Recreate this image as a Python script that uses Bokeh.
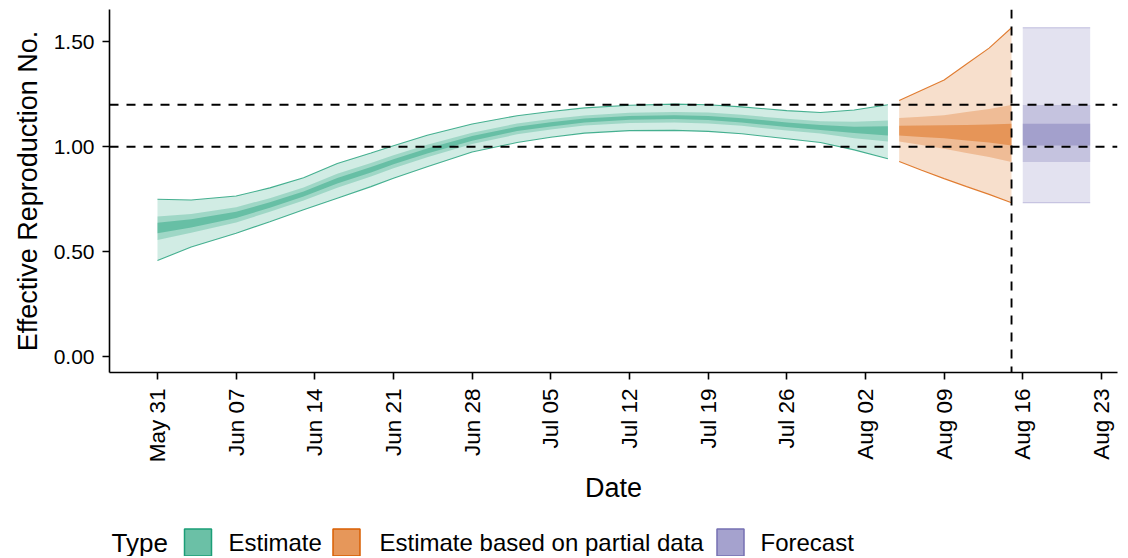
import numpy as np
import pandas as pd
from bokeh.plotting import figure
from bokeh.layouts import column
from bokeh.models import (Range1d, FixedTicker, DatetimeTickFormatter, NumeralTickFormatter, Span)
from bokeh.core.properties import value
from bokeh.embed import file_html
from bokeh.resources import INLINE

FONT = "Liberation Sans"

# ---------------- data ----------------
est_dates = ["2020-05-31", "2020-06-03", "2020-06-07", "2020-06-10", "2020-06-13", "2020-06-16",
             "2020-06-19", "2020-06-21", "2020-06-24", "2020-06-28", "2020-07-02", "2020-07-05",
             "2020-07-08", "2020-07-12", "2020-07-16", "2020-07-19", "2020-07-22", "2020-07-26",
             "2020-07-29", "2020-08-01", "2020-08-04"]
est_u90 = [0.750, 0.746, 0.765, 0.804, 0.852, 0.920, 0.970, 1.005, 1.055, 1.108, 1.148, 1.168,
           1.185, 1.198, 1.203, 1.200, 1.190, 1.172, 1.163, 1.175, 1.200]
est_l90 = [0.458, 0.522, 0.588, 0.643, 0.700, 0.755, 0.810, 0.850, 0.905, 0.975, 1.020, 1.045,
           1.065, 1.077, 1.078, 1.073, 1.062, 1.038, 1.020, 0.985, 0.943]
est_u50 = [0.667, 0.680, 0.712, 0.755, 0.806, 0.871, 0.922, 0.959, 1.010, 1.067, 1.111, 1.132,
           1.149, 1.162, 1.166, 1.163, 1.152, 1.133, 1.121, 1.119, 1.125]
est_l50 = [0.556, 0.590, 0.639, 0.690, 0.744, 0.804, 0.858, 0.897, 0.950, 1.013, 1.059, 1.082,
           1.101, 1.113, 1.116, 1.111, 1.100, 1.077, 1.063, 1.041, 1.025]
est_u20 = [0.638, 0.655, 0.690, 0.735, 0.787, 0.851, 0.903, 0.940, 0.992, 1.051, 1.095, 1.117,
           1.134, 1.147, 1.150, 1.147, 1.136, 1.116, 1.104, 1.095, 1.098]
est_l20 = [0.588, 0.615, 0.661, 0.709, 0.763, 0.825, 0.877, 0.916, 0.968, 1.029, 1.075, 1.097,
           1.116, 1.129, 1.132, 1.127, 1.116, 1.094, 1.080, 1.065, 1.054]

part_dates = ["2020-08-05", "2020-08-07", "2020-08-09", "2020-08-11", "2020-08-13", "2020-08-15"]
part_u90 = [1.220, 1.269, 1.318, 1.394, 1.470, 1.567]
part_l90 = [0.930, 0.888, 0.848, 0.810, 0.773, 0.733]
part_u50 = [1.137, 1.143, 1.150, 1.165, 1.180, 1.199]
part_l50 = [1.025, 1.008, 0.990, 0.970, 0.951, 0.927]
part_u20 = [1.100, 1.101, 1.102, 1.104, 1.106, 1.109]
part_l20 = [1.054, 1.047, 1.040, 1.030, 1.020, 1.006]

fc_dates = ["2020-08-16", "2020-08-17", "2020-08-18", "2020-08-19", "2020-08-20", "2020-08-21", "2020-08-22"]
fc_u90 = [1.567, 1.567, 1.567, 1.567, 1.567, 1.567, 1.567]
fc_l90 = [0.733, 0.733, 0.733, 0.733, 0.733, 0.733, 0.733]
fc_u50 = [1.199, 1.199, 1.199, 1.199, 1.199, 1.199, 1.199]
fc_l50 = [0.927, 0.927, 0.927, 0.927, 0.927, 0.927, 0.927]
fc_u20 = [1.109, 1.109, 1.109, 1.109, 1.109, 1.109, 1.109]
fc_l20 = [1.006, 1.006, 1.006, 1.006, 1.006, 1.006, 1.006]

tick_dates = ["2020-05-31", "2020-06-07", "2020-06-14", "2020-06-21", "2020-06-28", "2020-07-05",
              "2020-07-12", "2020-07-19", "2020-07-26", "2020-08-02", "2020-08-09", "2020-08-16",
              "2020-08-23"]
y_ticks = [0.0, 0.5, 1.0, 1.5]
ref_levels = [1.0, 1.2]
data_cutoff = "2020-08-15"
legend_title = "Type"
type_labels = ["Estimate", "Estimate based on partial data", "Forecast"]
type_colors = ["#1B9E77", "#D95F02", "#7570B3"]

# ---------------- main figure ----------------
DAY = 86400000.0


def ms(d):
    return pd.Timestamp(d).value / 1e6


x0 = ms("2020-05-31")
W = 1119
BL, BR = 109, 2
p = figure(width=W, height=506, x_axis_type="datetime", output_backend="svg",
           toolbar_location=None,
           x_range=Range1d(x0 - 4.27 * DAY, x0 + 85.43 * DAY),
           y_range=Range1d(-0.0758, 1.654),
           min_border_left=BL, min_border_right=BR, min_border_top=9, min_border_bottom=132)
p.xgrid.visible = False
p.ygrid.visible = False
p.outline_line_color = None
p.background_fill_color = "white"
p.border_fill_color = "white"

band_alphas = [0.2, 0.27, 0.42]
groups = [
    (est_dates, [(est_l90, est_u90), (est_l50, est_u50), (est_l20, est_u20)], type_colors[0], 0.8),
    (part_dates, [(part_l90, part_u90), (part_l50, part_u50), (part_l20, part_u20)], type_colors[1], 0.8),
    (fc_dates, [(fc_l90, fc_u90), (fc_l50, fc_u50), (fc_l20, fc_u20)], type_colors[2], 0.4),
]
for dates, bands, col, lalpha in groups:
    xs = pd.to_datetime(dates)
    for (lo, hi), a in zip(bands, band_alphas):
        p.varea(x=xs, y1=lo, y2=hi, fill_color=col, fill_alpha=a)
    lo90, hi90 = bands[0]
    p.line(x=xs, y=hi90, line_color=col, line_alpha=lalpha, line_width=1.1)
    p.line(x=xs, y=lo90, line_color=col, line_alpha=lalpha, line_width=1.1)

for lvl in ref_levels:
    p.add_layout(Span(location=lvl, dimension="width", line_color="black",
                      line_width=1.9, line_dash="9 8"))
p.add_layout(Span(location=ms(data_cutoff), dimension="height", line_color="black",
                  line_width=1.9, line_dash="9 8"))

p.xaxis.ticker = FixedTicker(ticks=[ms(d) for d in tick_dates])
p.xaxis.formatter = DatetimeTickFormatter(milliseconds="%b %d", seconds="%b %d", minsec="%b %d",
                                          minutes="%b %d", hourmin="%b %d", hours="%b %d",
                                          days="%b %d", months="%b %d", years="%b %d")
p.xaxis.major_label_orientation = np.pi / 2
p.yaxis.ticker = FixedTicker(ticks=y_ticks)
p.yaxis.formatter = NumeralTickFormatter(format="0.00")
p.xaxis.axis_label = "Date"
p.yaxis.axis_label = "Effective Reproduction No."
for ax in (p.xaxis, p.yaxis):
    ax.axis_line_color = "black"
    ax.axis_line_width = 1.6
    ax.major_tick_line_color = "black"
    ax.major_tick_line_width = 1.6
    ax.major_tick_out = 7
    ax.major_tick_in = 0
    ax.minor_tick_line_color = None
    ax.major_label_text_font = FONT
    ax.major_label_text_color = "black"
    ax.axis_label_text_font = FONT
    ax.axis_label_text_font_size = "27px"
    ax.axis_label_text_font_style = "normal"
    ax.axis_label_text_color = "black"
p.xaxis.major_label_text_font_size = "22.5px"
p.yaxis.major_label_text_font_size = "21px"
p.xaxis.major_label_standoff = 9
p.yaxis.major_label_standoff = 8
p.xaxis.axis_label_standoff = 8
p.yaxis.axis_label_standoff = 8

# ---------------- legend (separate strip, same frame as the plot) ----------------
LH = 50
lg = figure(width=W, height=LH, output_backend="svg", toolbar_location=None,
            x_range=Range1d(110, 1118), y_range=Range1d(0, LH),
            min_border_left=BL, min_border_right=BR, min_border_top=0, min_border_bottom=0)
lg.axis.visible = False
lg.grid.visible = False
lg.outline_line_color = None
lg.background_fill_color = "white"
lg.border_fill_color = "white"

title_x = [112]
swatch_x = [198.5, 347, 731]
label_x = [229, 380, 761]
row_y = 14
lg.text(x=title_x, y=[row_y], text=[legend_title], text_font=value(FONT), text_font_size="26px",
        text_baseline="middle", text_align="left", text_color="black")
lg.rect(x=swatch_x, y=[row_y] * 3, width=27, height=27, fill_color=type_colors, fill_alpha=0.65,
        line_color=type_colors, line_width=1.5)
lg.text(x=label_x, y=[row_y] * 3, text=type_labels, text_font=value(FONT), text_font_size="24px",
        text_baseline="middle", text_align="left", text_color="black")

open("out.html", "w").write(file_html(column(p, lg, spacing=0), INLINE))
